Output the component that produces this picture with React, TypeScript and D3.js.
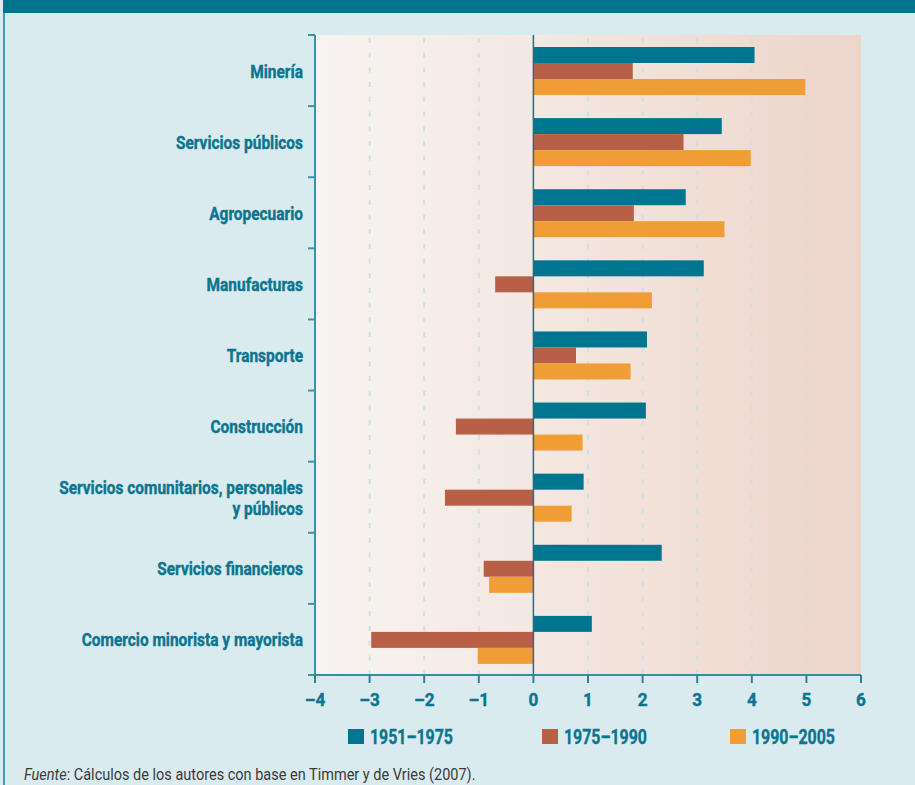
import React, { useEffect, useRef } from 'react';
import * as d3 from 'd3';

const categories = [
  'Minería',
  'Servicios públicos',
  'Agropecuario',
  'Manufacturas',
  'Transporte',
  'Construcción',
  'Servicios comunitarios, personales|y públicos',
  'Servicios financieros',
  'Comercio minorista y mayorista',
];
const seriesNames = ['1951–1975', '1975–1990', '1990–2005'];
const v1951 = [4.05, 3.45, 2.79, 3.12, 2.08, 2.06, 0.92, 2.35, 1.07];
const v1975 = [1.82, 2.75, 1.84, -0.7, 0.78, -1.42, -1.62, -0.91, -2.97];
const v1990 = [4.98, 3.98, 3.5, 2.17, 1.78, 0.9, 0.7, -0.81, -1.02];
const xTicks = [-4, -3, -2, -1, 0, 1, 2, 3, 4, 5, 6];
const colors = ['#00758f', '#b85f48', '#ef9d34'];

const TEAL = '#0b7590';
const FONT = 'Roboto, "DejaVu Sans", Arial, sans-serif';

export default function App() {
  const ref = useRef<SVGSVGElement>(null);

  useEffect(() => {
    const svg = d3.select(ref.current);
    svg.selectAll('*').remove();
    const W = 915, H = 785;
    svg.attr('width', W).attr('height', H);

    // the original uses a condensed face; squeeze Roboto to the same widths
    const measure = (str: string, size: number, weight: string) => {
      const t = svg.append('text').attr('font-family', FONT).attr('font-size', size)
        .attr('font-weight', weight).text(str);
      const w = (t.node() as SVGTextElement).getComputedTextLength();
      t.remove();
      return w;
    };
    const labelScale = 244 / measure('Servicios comunitarios, personales', 18, 'bold');
    const legendScale = 83 / measure('1951–1975', 19.5, 'bold');
    const srcScale = 453 / measure('Fuente: Cálculos de los autores con base en Timmer y de Vries (2007).', 16, 'normal');

    svg.append('rect').attr('width', W).attr('height', H).attr('fill', '#daebef');
    // header band and left border
    svg.append('rect').attr('x', 3).attr('y', 0).attr('width', W).attr('height', 13).attr('fill', '#00748d');
    svg.append('rect').attr('x', 3).attr('y', 13).attr('width', 2).attr('height', H).attr('fill', '#3e9fb4');

    const left = 315, right = 861, top = 35, bottom = 675;
    const x = d3.scaleLinear().domain([-4, 6]).range([left, right]);
    const y = d3.scaleBand().domain(categories).range([top, bottom]).paddingInner(0).paddingOuter(0);
    const inner = d3.scaleBand().domain(seriesNames).range([0, 48]);

    const defs = svg.append('defs');
    const grad = defs.append('linearGradient').attr('id', 'bg').attr('x1', '0').attr('x2', '1').attr('y1', '0').attr('y2', '0');
    grad.append('stop').attr('offset', '0%').attr('stop-color', '#f8f4f1');
    grad.append('stop').attr('offset', '40%').attr('stop-color', '#f4e8e2');
    grad.append('stop').attr('offset', '100%').attr('stop-color', '#edd5ca');

    svg.append('rect').attr('x', left).attr('y', top).attr('width', right - left).attr('height', bottom - top).attr('fill', 'url(#bg)');

    // dashed grid
    svg.append('g').selectAll('line')
      .data(xTicks.filter(t => t !== 0 && t !== -4 && t !== 6))
      .enter().append('line')
      .attr('x1', d => x(d)).attr('x2', d => x(d))
      .attr('y1', top + 3).attr('y2', bottom)
      .attr('stroke', '#cde0e6').attr('stroke-width', 2)
      .attr('stroke-dasharray', '5,9.7');

    // bars
    const series = [v1951, v1975, v1990];
    categories.forEach((c, i) => {
      series.forEach((vals, s) => {
        const v = vals[i];
        svg.append('rect')
          .attr('x', x(Math.min(0, v)))
          .attr('width', Math.abs(x(v) - x(0)))
          .attr('y', (y(c) as number) + 12 + (inner(seriesNames[s]) as number))
          .attr('height', inner.bandwidth())
          .attr('fill', colors[s]);
      });
    });

    // zero line
    svg.append('line').attr('x1', x(0)).attr('x2', x(0)).attr('y1', top).attr('y2', bottom)
      .attr('stroke', '#2b6c7d').attr('stroke-width', 1.5);

    // left axis
    const ax = svg.append('g');
    ax.append('line').attr('x1', left).attr('x2', left).attr('y1', top).attr('y2', bottom)
      .attr('stroke', '#3b93a8').attr('stroke-width', 2);
    const bounds = categories.map(c => y(c) as number).concat([bottom]);
    ax.selectAll('.yt').data(bounds).enter().append('line')
      .attr('x1', left - 7).attr('x2', left).attr('y1', d => d).attr('y2', d => d)
      .attr('stroke', '#3b93a8').attr('stroke-width', 2);

    // category labels
    categories.forEach(c => {
      const lines = c.split('|');
      const cy = (y(c) as number) + y.bandwidth() / 2;
      lines.forEach((l, k) => {
        const by = cy + 7 + (k - (lines.length - 1) / 2) * 21;
        svg.append('text')
          .attr('transform', `translate(303,${by}) scale(${labelScale},1)`)
          .attr('text-anchor', 'end')
          .attr('font-family', FONT).attr('font-weight', 'bold').attr('font-size', 18)
          .attr('fill', TEAL).attr('stroke', TEAL).attr('stroke-width', 0.4)
          .text(l);
      });
    });

    // bottom axis
    svg.append('line').attr('x1', left).attr('x2', right).attr('y1', bottom).attr('y2', bottom)
      .attr('stroke', '#3b8c9e').attr('stroke-width', 2);
    svg.append('g').selectAll('line').data(xTicks).enter().append('line')
      .attr('x1', d => x(d)).attr('x2', d => x(d)).attr('y1', bottom).attr('y2', bottom + 8)
      .attr('stroke', '#2f8197').attr('stroke-width', 2);
    svg.append('g').selectAll('text').data(xTicks).enter().append('text')
      .attr('transform', d => `translate(${x(d)},706) scale(0.9,1)`)
      .attr('text-anchor', 'middle')
      .attr('font-family', FONT).attr('font-weight', 'bold').attr('font-size', 19)
      .attr('fill', TEAL).attr('stroke', TEAL).attr('stroke-width', 0.4)
      .text(d => (d < 0 ? '–' + Math.abs(d) : String(d)));

    // legend
    const legX = [348, 542, 730];
    seriesNames.forEach((n, i) => {
      svg.append('rect').attr('x', legX[i]).attr('y', 729).attr('width', 16).attr('height', 15).attr('fill', colors[i]);
      svg.append('text')
        .attr('transform', `translate(${legX[i] + 22},744) scale(${legendScale},1)`)
        .attr('font-family', FONT).attr('font-weight', 'bold').attr('font-size', 19.5)
        .attr('fill', TEAL).attr('stroke', TEAL).attr('stroke-width', 0.4).text(n);
    });

    // source
    const src = svg.append('text')
      .attr('transform', `translate(24,780) scale(${srcScale},1)`)
      .attr('font-family', FONT).attr('font-size', 16).attr('fill', '#3a3a3a');
    src.append('tspan').attr('font-style', 'italic').text('Fuente');
    src.append('tspan').text(': Cálculos de los autores con base en Timmer y de Vries (2007).');
  }, []);

  return (
    <svg ref={ref} style={{ position: 'absolute', left: 0, top: 0, display: 'block' }} />
  );
}
